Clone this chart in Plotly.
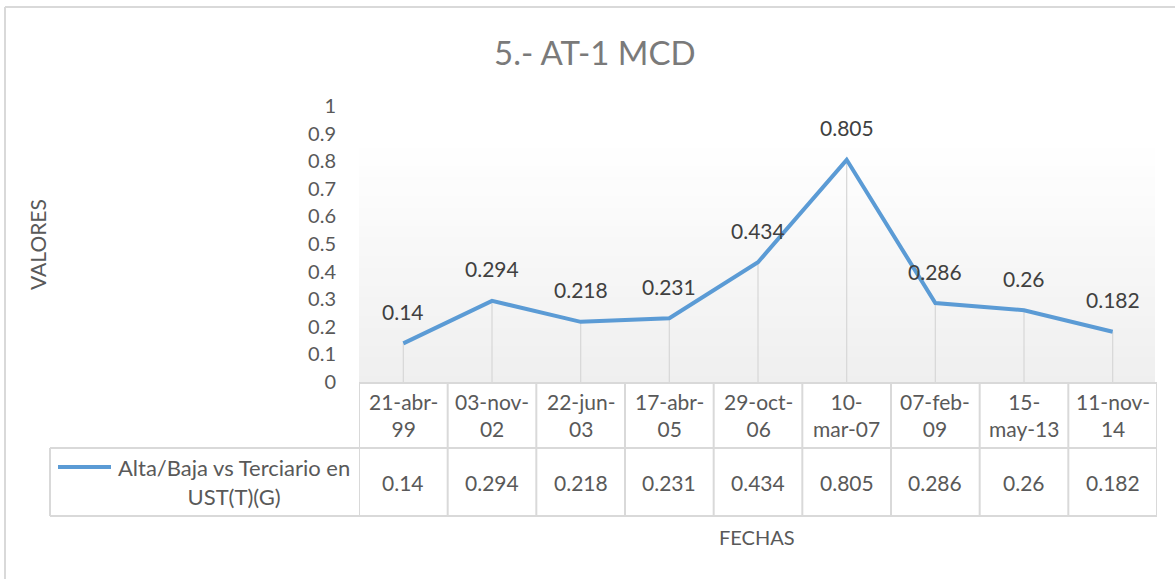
import plotly.graph_objects as go

categories = ["21-abr-99", "03-nov-02", "22-jun-03", "17-abr-05", "29-oct-06",
              "10-mar-07", "07-feb-09", "15-may-13", "11-nov-14"]
header_labels = ["21-abr-<br>99", "03-nov-<br>02", "22-jun-<br>03", "17-abr-<br>05", "29-oct-<br>06",
                 "10-<br>mar-07", "07-feb-<br>09", "15-<br>may-13", "11-nov-<br>14"]
values = [0.14, 0.294, 0.218, 0.231, 0.434, 0.805, 0.286, 0.26, 0.182]
series_name = "Alta/Baja vs Terciario en<br>UST(T)(G)"
y_ticks = [0, 0.1, 0.2, 0.3, 0.4, 0.5, 0.6, 0.7, 0.8, 0.9, 1]

W, H = 1175, 579
FONT = "Lato"
TXT = "#595959"
GRID = "#d9d9d9"
BLUE = "#5B9BD5"

def py(p):
    return 1 - p / H

def px(p):
    return p / W

x_idx = list(range(len(categories)))

fig = go.Figure()

# drop lines
dx, dy = [], []
for i, v in zip(x_idx, values):
    dx += [i, i, None]
    dy += [0, v, None]
fig.add_trace(go.Scatter(x=dx, y=dy, mode="lines", line=dict(color=GRID, width=1.3),
                         hoverinfo="skip", showlegend=False))

fig.add_trace(go.Scatter(x=x_idx, y=values, mode="lines", name=series_name,
                         line=dict(color=BLUE, width=4), showlegend=False))

shapes = []
# outer border (top and left edges only visible)
shapes.append(dict(type="line", xref="paper", yref="paper", x0=px(5), x1=1,
                   y0=py(7), y1=py(7), line=dict(color="#d9d9d9", width=2), layer="below"))
shapes.append(dict(type="line", xref="paper", yref="paper", x0=px(5), x1=px(5),
                   y0=0, y1=py(7), line=dict(color="#d9d9d9", width=2), layer="below"))
# gradient plot area
top, bot = 142, 382
n = 40
for k in range(n):
    y0p = top + (bot - top) * k / n
    y1p = top + (bot - top) * (k + 1) / n
    t = (k + 0.5) / n
    c = int(round(255 - t * 16))
    shapes.append(dict(type="rect", xref="paper", yref="paper", x0=px(359), x1=px(1155),
                       y0=py(y1p), y1=py(y0p) + 0.0005, line=dict(width=0),
                       fillcolor=f"rgb({c},{c},{c})", layer="below"))

# data table lines
n_cat = len(categories)
for k in range(n_cat + 1):
    shapes.append(dict(type="line", xref="x", yref="paper", x0=k - 0.5, x1=k - 0.5,
                       y0=py(383), y1=py(516), line=dict(color=GRID, width=2)))
shapes.append(dict(type="line", xref="x", yref="paper", x0=-0.5, x1=n_cat - 0.5,
                   y0=py(383), y1=py(383), line=dict(color=GRID, width=2)))
for yy in (448, 516):
    shapes.append(dict(type="line", xref="paper", yref="paper", x0=px(50), x1=px(1157),
                       y0=py(yy), y1=py(yy), line=dict(color=GRID, width=2)))
shapes.append(dict(type="line", xref="paper", yref="paper", x0=px(50), x1=px(50),
                   y0=py(448), y1=py(516), line=dict(color=GRID, width=2)))
# legend key
shapes.append(dict(type="line", xref="paper", yref="paper", x0=px(58), x1=px(111),
                   y0=py(467), y1=py(467), line=dict(color=BLUE, width=4)))

annotations = []
for i, v in zip(x_idx, values):
    annotations.append(dict(x=i, y=v, xref="x", yref="y", text=f"{v:g}", showarrow=False,
                            yshift=32, font=dict(family=FONT, size=21, color="#404040")))
for i, lab in zip(x_idx, header_labels):
    annotations.append(dict(x=i, y=py(415), xref="x", yref="paper", text=lab, showarrow=False,
                            yanchor="middle", font=dict(family=FONT, size=21, color=TXT)))
for i, v in zip(x_idx, values):
    annotations.append(dict(x=i, y=py(482), xref="x", yref="paper", text=f"{v:g}", showarrow=False,
                            yanchor="middle", font=dict(family=FONT, size=21, color=TXT)))
annotations.append(dict(x=px(234), y=py(482), xref="paper", yref="paper", text=series_name,
                        showarrow=False, yanchor="middle", xanchor="center",
                        font=dict(family=FONT, size=22, color=TXT)))
annotations.append(dict(x=px(757), y=py(537), xref="paper", yref="paper", text="FECHAS",
                        showarrow=False, yanchor="middle",
                        font=dict(family=FONT, size=20, color=TXT)))
annotations.append(dict(x=px(37), y=py(245), xref="paper", yref="paper", text="VALORES",
                        showarrow=False, textangle=-90, yanchor="middle", xanchor="center",
                        font=dict(family=FONT, size=21, color=TXT)))
annotations.append(dict(x=px(595), y=py(52), xref="paper", yref="paper", text="5.- AT-1 MCD",
                        showarrow=False, yanchor="middle", xanchor="center",
                        font=dict(family=FONT, size=33, color="#7a7a7a")))

fig.update_layout(
    width=W, height=H,
    margin=dict(l=0, r=0, t=0, b=0, pad=0, autoexpand=False),
    paper_bgcolor="white", plot_bgcolor="rgba(0,0,0,0)",
    shapes=shapes, annotations=annotations,
    xaxis=dict(domain=[px(359), px(1157)], range=[-0.5, n_cat - 0.5], showticklabels=False,
               showgrid=False, zeroline=False, showline=False, fixedrange=True, automargin=False),
    yaxis=dict(domain=[py(382), py(106)], range=[0, 1], tickvals=y_ticks,
               ticktext=[f"{t:g}" for t in y_ticks], showgrid=False, zeroline=False,
               showline=False, ticks="", ticklabelstandoff=22, automargin=False,
               tickfont=dict(family=FONT, size=20, color=TXT), fixedrange=True),
    showlegend=False,
)

fig.write_html("out.html", config={"displayModeBar": False})
